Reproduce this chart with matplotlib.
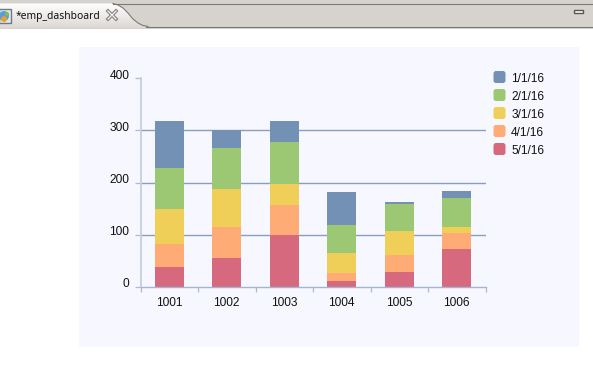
import matplotlib
matplotlib.use('Agg')
import matplotlib.pyplot as plt
import numpy as np
from matplotlib.patches import FancyBboxPatch, Rectangle, Polygon, Circle
from matplotlib.transforms import ScaledTranslation

# values
categories = ['1001', '1002', '1003', '1004', '1005', '1006']
dates = ['1/1/16', '2/1/16', '3/1/16', '4/1/16', '5/1/16']
jan = [90, 34, 40, 62, 4, 12]
feb = [79, 79, 81, 54, 52, 56]
mar = [67, 73, 40, 38, 46, 12]
apr = [44, 60, 58, 17, 33, 31]
may = [38, 55, 99, 10, 28, 72]
colors = ['#7390b5', '#9dc873', '#f0cf59', '#ffab76', '#d6697d']
yticks = [0, 100, 200, 300, 400]
gridlines = [100, 200, 300]

plt.rcParams['font.family'] = ['Liberation Sans', 'DejaVu Sans']

W, H = 593, 375
fig = plt.figure(figsize=(W / 100, H / 100), dpi=100, facecolor='white')

# background axes in pixels, holds the editor tab and the panel
bg = fig.add_axes([0, 0, 1, 1], zorder=0)
bg.set_xlim(0, W)
bg.set_ylim(H, 0)
bg.axis('off')

# grey tab strip
bg.add_patch(Rectangle((0, 0), W, 28.5, color='#d6d3ce', lw=0))
bg.plot([113, W], [3.5, 3.5], color='#7d7a74', lw=0.8)
bg.plot([146, W], [26.5, 26.5], color='#7d7a74', lw=0.8)

# active tab with a soft gradient and curved right edge
curve_x = [113, 118, 123, 128, 133, 138, 143, 148]
curve_y = [3.5, 5, 8, 13, 19, 23, 25.5, 26.5]
grad = np.linspace(0, 1, 64).reshape(-1, 1)
im = bg.imshow(grad, extent=(0, 148, 28.5, 3.5), cmap=matplotlib.colors.LinearSegmentedColormap.from_list(
    'tab', ['#ffffff', '#dcd8d4']), aspect='auto', zorder=1)
tab = Polygon([(0, 3.5)] + list(zip(curve_x, curve_y)) + [(148, 28.5), (0, 28.5)],
              transform=bg.transData, fc='none', ec='none')
bg.add_patch(tab)
im.set_clip_path(tab)
bg.plot(curve_x, curve_y, color='#7d7a74', lw=0.8, zorder=2)
bg.set_xlim(0, W)
bg.set_ylim(H, 0)

# small tab icon
bg.add_patch(Rectangle((-1, 8.5), 12, 14, fc='#dfe6ee', ec='#6f7a80', lw=1, zorder=2))
bg.add_patch(Circle((4, 16), 5, fc='#5b9bd8', ec='none', zorder=3))
bg.add_patch(Circle((4, 19), 3, fc='#e8a030', ec='none', zorder=3))
bg.add_patch(Circle((7, 14), 2, fc='#7cc04a', ec='none', zorder=3))

bg.text(15.5, 16, '*emp_dashboard', fontsize=7.4, family=['Noto Sans', 'DejaVu Sans'],
        va='center', ha='left', color='#111111', zorder=3)

# hollow close cross
for ys in ([11, 19], [19, 11]):
    bg.plot([108, 116], ys, color='#77746e', lw=2.4, zorder=3, solid_capstyle='projecting')
    bg.plot([108, 116], ys, color='#f4f3f1', lw=1, zorder=4, solid_capstyle='projecting')

# minimize button
bg.add_patch(Rectangle((573.5, 9.5), 9, 3, fc='white', ec='#555555', lw=1, zorder=3))

# chart panel
bg.add_patch(Rectangle((79, 47), 500, 300, color='#f6f7ff', lw=0))

# chart axes placed on the panel
left, right, top, bottom = 140.5, 485.5, 78.3, 286.7
ax = fig.add_axes([left / W, 1 - bottom / H, (right - left) / W, (bottom - top) / H], zorder=1)
ax.patch.set_alpha(0)

x = np.arange(len(categories))
series = [jan, feb, mar, apr, may]

for v in gridlines:
    ax.axhline(v, color='#8a9fbd', lw=1, zorder=1)

# stack from the bottom, last date lies lowest
base = np.zeros(len(categories))
for name, vals, c in zip(dates[::-1], series[::-1], colors[::-1]):
    ax.bar(x, vals, width=0.5, bottom=base, color=c, lw=0, zorder=2, label=name)
    base = base + np.array(vals)

ax.set_xlim(-0.5, 5.5)
ax.set_ylim(0, 400)
ax.set_yticks(yticks)
ax.set_xticks(np.arange(-0.5, 6, 1))
ax.set_xticklabels([])
ax.set_xticks(x, minor=True)
ax.set_xticklabels(categories, minor=True, fontsize=8.6, color='#111111')
ax.tick_params(axis='x', which='major', length=3.5, width=0.9, color='#a9bcd6')
ax.tick_params(axis='x', which='minor', length=0, pad=7.5)
ax.tick_params(axis='y', length=4, width=0.9, color='#a9bcd6', pad=4, labelsize=8.6, labelcolor='#111111')

# y labels sit a bit above their ticks
for lab in ax.get_yticklabels():
    lab.set_transform(lab.get_transform() + ScaledTranslation(0, 4 / 100, fig.dpi_scale_trans))

for s in ['top', 'right']:
    ax.spines[s].set_visible(False)
ax.spines['left'].set_color('#c3cfe0')
ax.spines['left'].set_linewidth(1.3)
ax.spines['bottom'].set_color('#a3b5d0')
ax.spines['bottom'].set_linewidth(1)

# legend with rounded swatches
for i, (name, c) in enumerate(zip(dates, colors)):
    cy = 77 + 18 * i
    bg.add_patch(FancyBboxPatch((495.5, cy - 4), 8, 8, boxstyle='round,pad=2,rounding_size=2.5',
                                fc=c, ec='none', zorder=3))
    bg.text(511.2, cy + 2, name, fontsize=8.6, va='center', ha='left', color='#111111', zorder=3)

fig.savefig('out.png', dpi=100)
